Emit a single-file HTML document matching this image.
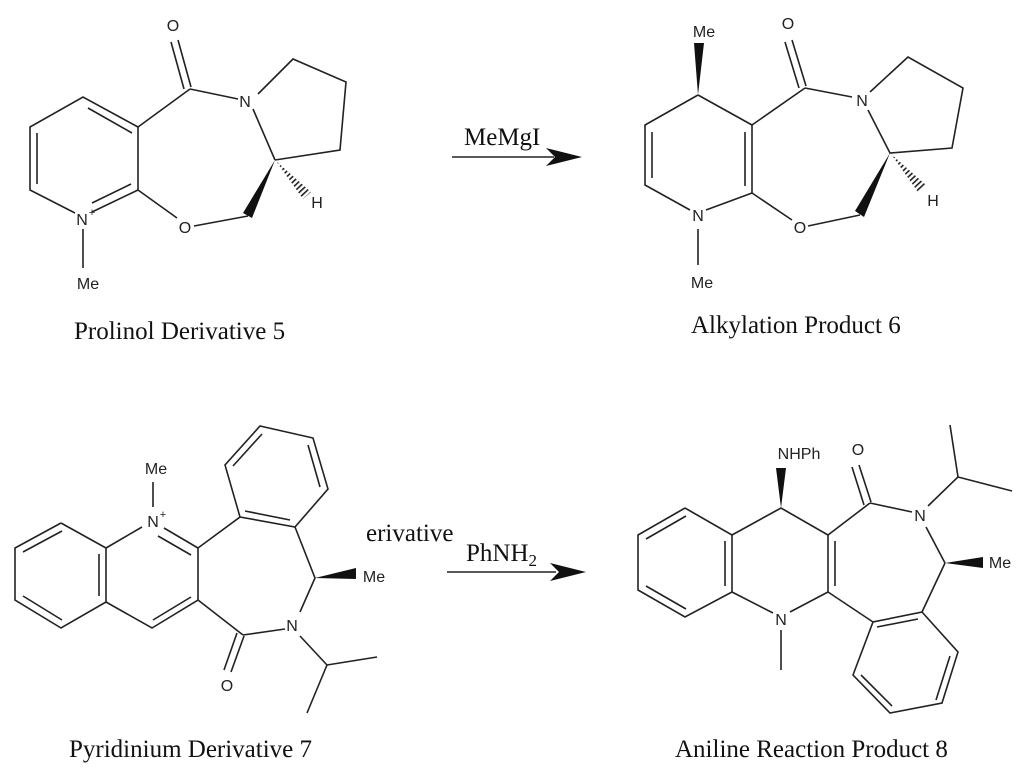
<!DOCTYPE html>
<html><head><meta charset="utf-8"><style>
html,body{margin:0;padding:0;background:#fff;}
svg{display:block;}
.b line,.b polyline{stroke:#222;stroke-width:1.6;fill:none;}
.a{font-family:"Liberation Sans",sans-serif;font-size:16px;fill:#222;text-anchor:middle;}
.c{font-family:"Liberation Serif",serif;font-size:25px;fill:#111;}
</style></head><body>
<svg width="1021" height="775" viewBox="0 0 1021 775">
<defs>
<pattern id="h" width="4" height="12" patternUnits="userSpaceOnUse" patternTransform="rotate(47)">
<rect x="0" y="0" width="1.6" height="12" fill="#222"/></pattern>
</defs>
<g class="b">
<!-- Structure 5 -->
<polyline points="138,127 83,97 30,127 30,190 75,213"/>
<line x1="132" y1="133" x2="88" y2="108"/>
<line x1="37" y1="133" x2="37" y2="184"/>
<line x1="92" y1="212" x2="138" y2="190"/>
<line x1="92" y1="203" x2="131" y2="184"/>
<line x1="138" y1="190" x2="138" y2="127"/>
<line x1="138" y1="127" x2="190" y2="89"/>
<line x1="191" y1="87" x2="178" y2="40"/>
<line x1="184" y1="89" x2="171" y2="42"/>
<line x1="190" y1="89" x2="238" y2="99"/>
<line x1="138" y1="190" x2="177" y2="218"/>
<line x1="194" y1="226" x2="248" y2="216"/>
<line x1="253" y1="109" x2="275" y2="160"/>
<polyline points="258,94 293,59 346,82 340,150 275,160"/>
<line x1="83" y1="229" x2="83" y2="268"/>
<!-- Structure 6 -->
<polyline points="698,95 645,125 645,185 690,210"/>
<line x1="652" y1="132" x2="652" y2="178"/>
<line x1="706" y1="210" x2="752" y2="193"/>
<line x1="752" y1="193" x2="752" y2="125"/>
<line x1="745" y1="132" x2="745" y2="186"/>
<line x1="752" y1="125" x2="698" y2="95"/>
<line x1="752" y1="125" x2="805" y2="88"/>
<line x1="806" y1="86" x2="792" y2="40"/>
<line x1="799" y1="88" x2="785" y2="42"/>
<line x1="805" y1="88" x2="852" y2="97"/>
<polyline points="870,92 908,57 963,88 952,148 890,153 868,110"/>
<line x1="752" y1="193" x2="792" y2="220"/>
<line x1="808" y1="226" x2="860" y2="215"/>
<line x1="698" y1="229" x2="698" y2="265"/>
<!-- Arrow 1 -->
<line x1="452" y1="157" x2="554" y2="157"/>
<!-- Structure 7 -->
<polyline points="61,523 15,548 15,600 61,628 106,602 106,548 61,523"/>
<line x1="62" y1="531" x2="23" y2="552"/>
<line x1="23" y1="596" x2="62" y2="620"/>
<line x1="99" y1="554" x2="99" y2="596"/>
<line x1="106" y1="548" x2="142" y2="527"/>
<line x1="164" y1="528" x2="198" y2="548"/>
<line x1="158" y1="536" x2="191" y2="555"/>
<polyline points="198,548 198,600 152,628 106,602"/>
<line x1="191" y1="597" x2="153" y2="620"/>
<polyline points="198,548 240,517 225,465 260,426 313,438 328,489 295,527 240,517"/>
<line x1="233" y1="466" x2="262" y2="434"/>
<line x1="308" y1="445" x2="320" y2="487"/>
<line x1="290" y1="520" x2="245" y2="511"/>
<polyline points="295,527 315,578 300,612"/>
<line x1="285" y1="629" x2="243" y2="635"/>
<line x1="243" y1="635" x2="198" y2="600"/>
<line x1="244" y1="636" x2="231" y2="672"/>
<line x1="237" y1="633" x2="224" y2="670"/>
<line x1="300" y1="636" x2="327" y2="665"/>
<line x1="327" y1="665" x2="377" y2="657"/>
<line x1="327" y1="665" x2="307" y2="713"/>
<line x1="153" y1="482" x2="153" y2="507"/>
<!-- Arrow 2 -->
<line x1="447" y1="572" x2="556" y2="572"/>
<!-- Structure 8 -->
<polyline points="685,508 638,535 638,590 685,617 732,592 732,535 685,508"/>
<line x1="686" y1="516" x2="646" y2="539"/>
<line x1="646" y1="586" x2="686" y2="609"/>
<line x1="725" y1="541" x2="725" y2="586"/>
<polyline points="732,535 781,508 828,535 828,592 790,612"/>
<line x1="835" y1="541" x2="835" y2="586"/>
<line x1="732" y1="592" x2="773" y2="613"/>
<line x1="781" y1="630" x2="781" y2="670"/>
<line x1="828" y1="535" x2="870" y2="503"/>
<line x1="871" y1="502" x2="859" y2="465"/>
<line x1="864" y1="505" x2="852" y2="467"/>
<line x1="870" y1="503" x2="912" y2="512"/>
<polyline points="928,506 958,477 950,425"/>
<line x1="958" y1="477" x2="1012" y2="491"/>
<line x1="926" y1="527" x2="945" y2="563"/>
<polyline points="945,563 922,612 873,622 853,675 890,713 942,703 958,652 922,612"/>
<line x1="918" y1="619" x2="877" y2="627"/>
<line x1="861" y1="675" x2="892" y2="706"/>
<line x1="936" y1="700" x2="950" y2="656"/>
<line x1="873" y1="622" x2="828" y2="592"/>
</g>
<!-- wedges -->
<g fill="#111">
<polygon points="275,160 243,213 252,218"/>
<polygon points="698,95 694,43 704,43"/>
<polygon points="890,153 855,211 864,217"/>
<polygon points="315,578 356,568 356,579"/>
<polygon points="781,508 776,468 786,468"/>
<polygon points="945,563 983,557 983,568"/>
<polygon points="546,148 582,157 546,166 555,157"/>
<polygon points="550,563 586,572 550,581 559,572"/>
</g>
<!-- hashed -->
<polygon points="276,161 311,192 303,199" fill="url(#h)"/>
<polygon points="891,154 926,185 918,192" fill="url(#h)"/>
<!-- atom labels -->
<g class="a">
<text x="173" y="31">O</text>
<text x="245" y="107">N</text>
<text x="82" y="225">N</text><text x="92" y="216" style="font-size:11px">+</text>
<text x="185" y="233">O</text>
<text x="317" y="208">H</text>
<text x="88" y="289">Me</text>
<text x="704" y="37">Me</text>
<text x="788" y="29">O</text>
<text x="862" y="106">N</text>
<text x="698" y="221">N</text>
<text x="800" y="233">O</text>
<text x="933" y="206">H</text>
<text x="702" y="288">Me</text>
<text x="156" y="474">Me</text>
<text x="153" y="527">N</text><text x="163" y="518" style="font-size:11px">+</text>
<text x="374" y="582">Me</text>
<text x="292" y="631">N</text>
<text x="227" y="691">O</text>
<text x="799" y="459">NHPh</text>
<text x="858" y="455">O</text>
<text x="920" y="521">N</text>
<text x="1000" y="568">Me</text>
<text x="781" y="625">N</text>
</g>
<g class="c">
<text x="464" y="145">MeMgI</text>
<text x="466" y="561">PhNH<tspan font-size="17" dy="5">2</tspan></text>
<text x="366" y="541">erivative</text>
<text x="74" y="339">Prolinol Derivative 5</text>
<text x="691" y="333">Alkylation Product 6</text>
<text x="69" y="757">Pyridinium Derivative 7</text>
<text x="675" y="757">Aniline Reaction Product 8</text>
</g>
</svg>
</body></html>
